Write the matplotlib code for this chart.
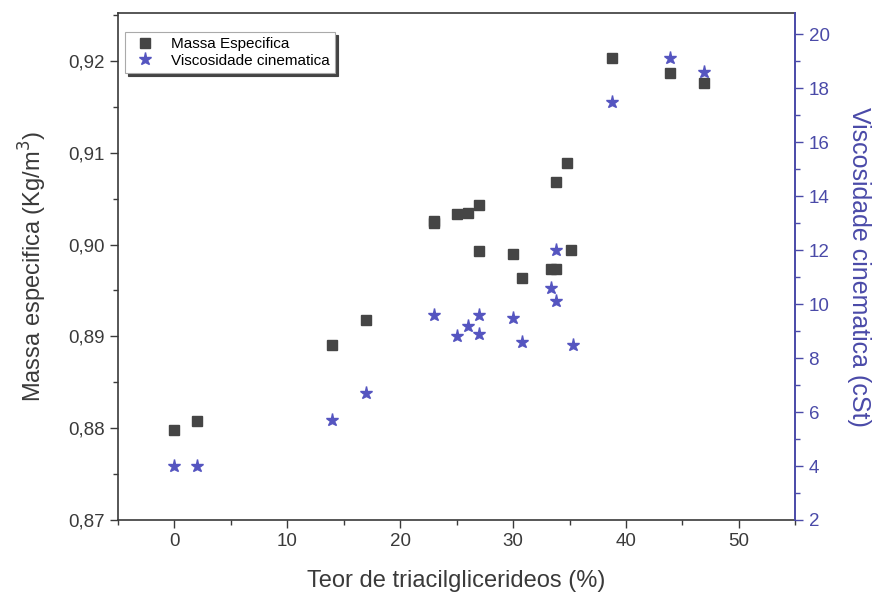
import matplotlib
matplotlib.use('Agg')
import matplotlib.pyplot as plt
from matplotlib.ticker import MultipleLocator, FuncFormatter

plt.rcParams['font.family'] = ['Liberation Sans', 'DejaVu Sans']

# teor de triacilglicerideos (%)
teor_massa = [0, 2, 14, 17, 23, 23, 25, 26, 27, 27, 30, 30.8, 33.4, 33.8, 33.8, 34.8, 35.1, 38.8, 43.9, 46.9]
massa = [0.8798, 0.8808, 0.8891, 0.8918, 0.9026, 0.9023, 0.9033, 0.9034, 0.9043, 0.8993,
         0.8990, 0.8964, 0.8973, 0.8973, 0.9068, 0.9089, 0.8994, 0.9203, 0.9187, 0.9176]

teor_visc = [0, 2, 14, 17, 23, 25, 26, 27, 27, 30, 30.8, 33.4, 33.8, 33.8, 35.3, 38.8, 43.9, 46.9]
visc = [4.0, 4.0, 5.7, 6.7, 9.6, 8.8, 9.2, 9.6, 8.9, 9.5, 8.6, 10.6, 10.1, 12.0, 8.5, 17.5, 19.1, 18.6]

col_visc = '#5555c0'
col_axis2 = '#4a4aa8'
col_txt = '#3a3a3a'

fig = plt.figure(figsize=(8.74, 5.97), dpi=100)
ax = fig.add_axes([0.135, 0.129, 0.775, 0.849])
ax2 = ax.twinx()

l1, = ax.plot(teor_massa, massa, 's', color='#454545', markersize=7, linestyle='none',
              label='Massa Especifica')
l2, = ax2.plot(teor_visc, visc, '*', color=col_visc, markersize=9.5, linestyle='none',
               label='Viscosidade cinematica')

ax.set_xlim(-5, 55)
ax.set_ylim(0.87, 0.9252)
ax2.set_ylim(2, 20.78)

ax.xaxis.set_major_locator(MultipleLocator(10))
ax.xaxis.set_minor_locator(MultipleLocator(5))
ax.yaxis.set_major_locator(MultipleLocator(0.01))
ax.yaxis.set_minor_locator(MultipleLocator(0.005))
ax.yaxis.set_major_formatter(FuncFormatter(lambda v, p: '{:.2f}'.format(v).replace('.', ',')))
ax2.yaxis.set_major_locator(MultipleLocator(2))
ax2.yaxis.set_minor_locator(MultipleLocator(1))

ax.tick_params(axis='both', which='major', direction='out', length=6, width=1,
               labelsize=13.5, colors=col_txt, right=False, top=False)
ax.tick_params(axis='both', which='minor', direction='out', length=3.5, width=1,
               right=False, top=False, colors=col_txt)
ax2.tick_params(axis='y', which='major', direction='out', length=6, width=1,
                labelsize=13.5, colors=col_axis2)
ax2.tick_params(axis='y', which='minor', direction='out', length=3.5, width=1,
                colors=col_axis2)

for s in ['left', 'bottom', 'top']:
    ax.spines[s].set_color(col_txt)
    ax.spines[s].set_linewidth(1.2)
ax2.spines['right'].set_color(col_axis2)
ax2.spines['right'].set_linewidth(1.4)
ax.spines['right'].set_visible(False)
ax2.spines['left'].set_visible(False)
ax2.spines['top'].set_visible(False)
ax2.spines['bottom'].set_visible(False)

ax.set_xlabel('Teor de triacilglicerideos (%)', fontsize=17, color=col_txt, labelpad=14)
ax.set_ylabel('Massa especifica (Kg/m$^3$)', fontsize=17, color=col_txt, labelpad=14)
ax2.set_ylabel('Viscosidade cinematica (cSt)', fontsize=18, color=col_axis2,
               rotation=270, labelpad=30)

leg = ax.legend(handles=[l1, l2], loc='upper left', bbox_to_anchor=(0.01, 0.963),
                fontsize=11, frameon=True, fancybox=False,
                shadow={'color': '#444444', 'alpha': 1.0},
                borderpad=0.35, handletextpad=0.7, labelspacing=0.15,
                edgecolor='#aaaaaa', borderaxespad=0)
leg.get_frame().set_linewidth(0.8)

plt.savefig('out.png', dpi=100)
